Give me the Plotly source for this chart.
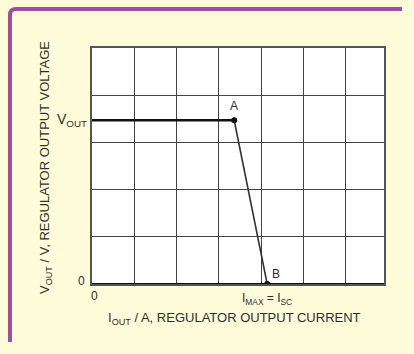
import plotly.graph_objects as go

# Regulator output characteristic: constant voltage up to A, fold to B
point_names = ["A", "B"]
i_out = [0.0, 3.36, 4.14]          # current, grid units
v_out = [3.47, 3.47, 0.0]          # voltage, grid units
x_grid = [0, 1, 2, 3, 4, 5, 6]
y_grid = [0, 1, 2, 3, 4, 5]
x_range = [0, 6.9]
y_range = [0, 5]

FONT = "Liberation Sans, Arial, Helvetica, sans-serif"
INK = "#2e2e2e"
FRAME = "#A24E9C"

# pixel -> paper helpers for the 292 x 236 plotting area
def px(xp):
    return (xp - 92) / 292

def py(yp):
    return (284 - yp) / 236

fig = go.Figure()

# flat regulated section
fig.add_trace(go.Scatter(x=i_out[:2], y=v_out[:2], mode="lines",
                         line=dict(color="#111111", width=2.4),
                         hoverinfo="skip", showlegend=False))
# current-limit fold-back
fig.add_trace(go.Scatter(x=i_out[1:], y=v_out[1:], mode="lines",
                         line=dict(color="#333333", width=1.6),
                         hoverinfo="skip", showlegend=False))
# end points A and B
fig.add_trace(go.Scatter(x=i_out[1:], y=v_out[1:], mode="markers",
                         marker=dict(color="#111111", size=6),
                         hoverinfo="skip", showlegend=False))

fig.update_layout(
    width=414, height=354,
    margin=dict(l=92, r=30, t=48, b=70),
    paper_bgcolor="#FFFCD9",
    plot_bgcolor="#FFFFFF",
    font=dict(family=FONT, color=INK, size=12),
    showlegend=False,
)
fig.update_xaxes(range=x_range, tickvals=x_grid, showticklabels=False,
                 showgrid=True, gridcolor="#444444", gridwidth=1,
                 zeroline=False, showline=True, linecolor="#555555",
                 linewidth=2, mirror=True, ticks="", fixedrange=True)
fig.update_yaxes(range=y_range, tickvals=y_grid, showticklabels=False,
                 showgrid=True, gridcolor="#444444", gridwidth=1,
                 zeroline=False, showline=True, linecolor="#555555",
                 linewidth=2, mirror=True, ticks="", fixedrange=True)

# heavy baseline at zero volts
fig.add_shape(type="line", xref="x", yref="y", x0=x_range[0], x1=x_range[1],
              y0=0, y1=0, line=dict(color="#111111", width=2.2), layer="above")

# purple frame: open path along the left and top edges, rounded corner
fig.add_shape(type="path", xref="paper", yref="paper",
              path=(f"M {px(10)},{py(342)} L {px(10)},{py(15)} "
                    f"Q {px(10)},{py(9)} {px(16)},{py(9)} L {px(402)},{py(9)}"),
              line=dict(color=FRAME, width=4), layer="below")

ann = []
# point labels
ann.append(dict(x=i_out[1], y=v_out[1], text=point_names[0], showarrow=False,
                yshift=14, font=dict(size=12, color=INK)))
ann.append(dict(x=i_out[2], y=v_out[2], text=point_names[1], showarrow=False,
                xshift=9, yshift=10, font=dict(size=12, color=INK)))
# axis value labels
ann.append(dict(x=0, y=0, text="0", showarrow=False, xanchor="right",
                xshift=-5, yshift=3, font=dict(size=12, color=INK)))
ann.append(dict(x=0, y=0, text="0", showarrow=False, yanchor="top",
                xshift=2, yshift=-3, font=dict(size=12, color=INK)))
ann.append(dict(x=0, y=v_out[0], text="V<sub>OUT</sub>", showarrow=False,
                xanchor="right", xshift=-3, font=dict(size=14, color=INK)))
ann.append(dict(x=i_out[2], y=0, text="I<sub>MAX</sub> = I<sub>SC</sub>",
                showarrow=False, yanchor="top", yshift=-5,
                font=dict(size=12, color=INK)))
# axis titles
ann.append(dict(xref="paper", yref="paper", x=px(234), y=py(318),
                xanchor="center", yanchor="middle",
                text="I<sub>OUT</sub> / A, REGULATOR OUTPUT CURRENT",
                showarrow=False, font=dict(size=13, color=INK)))
ann.append(dict(xref="paper", yref="paper", x=px(45), y=py(168),
                xanchor="center", yanchor="middle",
                text="V<sub>OUT</sub> / V, REGULATOR OUTPUT VOLTAGE",
                textangle=-90, showarrow=False, font=dict(size=13, color=INK)))
fig.update_layout(annotations=ann)

fig.write_html("out.html", config=dict(displayModeBar=False))
